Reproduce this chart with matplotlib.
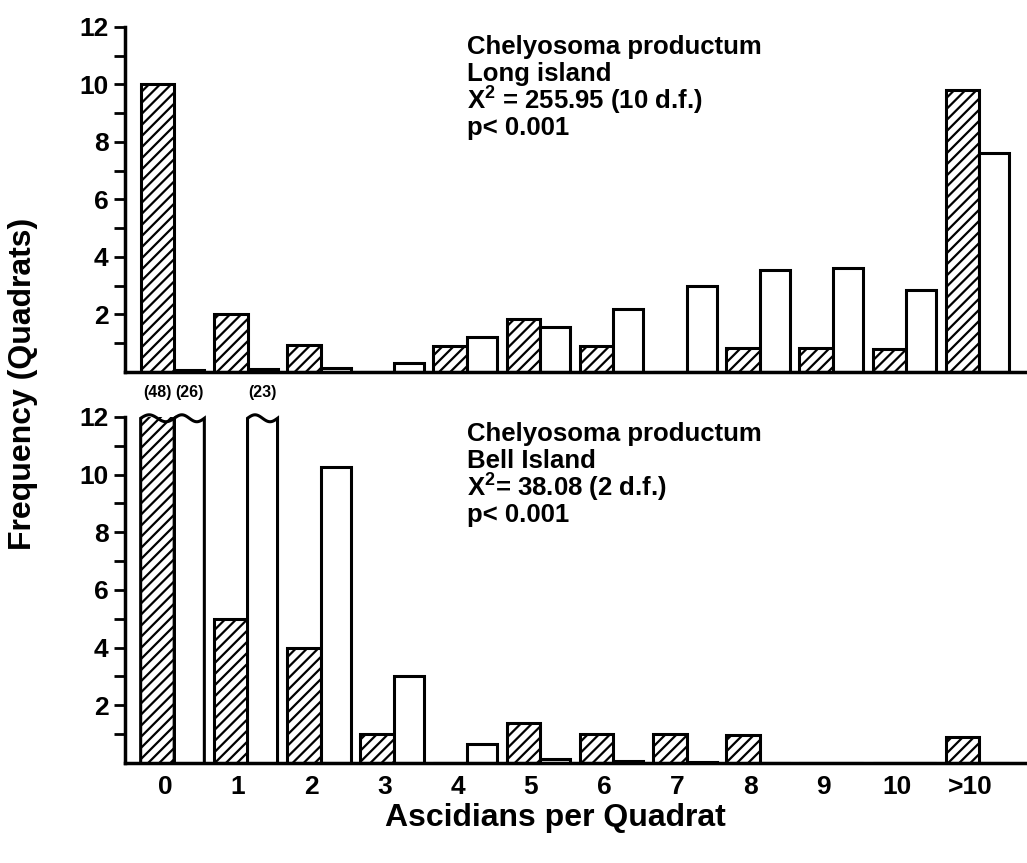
import numpy as np
import matplotlib
matplotlib.use('Agg')
import matplotlib.pyplot as plt

plt.rcParams['font.family'] = ['Liberation Sans', 'DejaVu Sans']
plt.rcParams['font.weight'] = 'bold'
plt.rcParams['mathtext.fontset'] = 'custom'
plt.rcParams['mathtext.rm'] = 'Liberation Sans:bold'
plt.rcParams['mathtext.default'] = 'rm'
plt.rcParams['hatch.linewidth'] = 1.6

categories = ['0', '1', '2', '3', '4', '5', '6', '7', '8', '9', '10', '>10']

# Long island: observed (hatched) and expected (open)
long_observed = [10, 2.0, 0.95, 0, 0.9, 1.85, 0.9, 0, 0.85, 0.85, 0.8, 9.8]
long_expected = [0.08, 0.1, 0.15, 0.3, 1.2, 1.55, 2.2, 3.0, 3.55, 3.6, 2.85, 7.6]

# Bell island: observed (hatched) and expected (open); bars above 12 are broken
bell_observed = [48, 5, 4, 1, 0, 1.4, 1.0, 1.0, 0.95, 0, 0, 0.9]
bell_expected = [26, 23, 10.25, 3.0, 0.65, 0.12, 0.05, 0.03, 0, 0, 0, 0]

long_text = ['Chelyosoma productum', 'Long island',
             'X$^{2}$ = 255.95 (10 d.f.)', 'p< 0.001']
bell_text = ['Chelyosoma productum', 'Bell Island',
             'X$^{2}$= 38.08 (2 d.f.)', 'p< 0.001']

YMAX = 12
HATCH_W = 0.46
OPEN_W = 0.41


def draw_bars(ax, pos, vals, width, hatch):
    shown = np.minimum(vals, YMAX)
    bars = ax.bar(pos, shown, width, align='edge', facecolor='white',
                  edgecolor='black', linewidth=2.2, hatch=hatch, zorder=2)
    for bar, v in zip(bars, vals):
        if v <= YMAX:
            continue
        # broken bar: wavy top and the real count written above
        bar.set_linewidth(0)
        x0, w = bar.get_x(), bar.get_width()
        xs = np.linspace(x0, x0 + w, 40)
        ys = YMAX - 0.05 + 0.12 * np.sin(2 * np.pi * (xs - x0) / w)
        ax.plot([x0, *xs, x0 + w], [0, *ys, 0], color='black', lw=2.2,
                clip_on=False, zorder=3, solid_joinstyle='miter')
        ax.text(x0 + w / 2, YMAX + 0.85, f'({v:g})', ha='center', va='center',
                fontsize=11.5, fontweight='bold', clip_on=False)


def style_axis(ax):
    x = np.arange(len(categories))
    ax.set_xlim(-0.67, 11.65)
    ax.set_ylim(0, YMAX)
    ax.set_yticks(range(2, 13, 2))
    ax.set_yticks(range(1, 12, 2), minor=True)
    ax.tick_params(axis='y', which='both', direction='out', length=8,
                   width=2, labelsize=19, pad=4)
    ax.set_xticks(x - 0.13)
    ax.tick_params(axis='x', length=0, labelsize=19, pad=9)
    for s in ['top', 'right']:
        ax.spines[s].set_visible(False)
    for s in ['left', 'bottom']:
        ax.spines[s].set_linewidth(2.5)
    for lab in ax.get_yticklabels():
        lab.set_fontweight('bold')


def panel(ax, observed, expected, lines, show_x, top):
    x = np.arange(len(categories))
    draw_bars(ax, x - HATCH_W, np.array(observed, float), HATCH_W, '///')
    draw_bars(ax, x, np.array(expected, float), OPEN_W, None)
    style_axis(ax)
    if show_x:
        ax.set_xticklabels(categories, fontweight='bold')
    else:
        ax.set_xticklabels([])
    for i, t in enumerate(lines):
        ax.text(0.379, top - i * 0.078, t, transform=ax.transAxes,
                fontsize=18.5, fontweight='bold', va='center', ha='left')


fig = plt.figure(figsize=(10.27, 8.63), dpi=100)
ax1 = fig.add_axes([0.122, 0.569, 0.878, 0.400])
ax2 = fig.add_axes([0.122, 0.116, 0.878, 0.401])

panel(ax1, long_observed, long_expected, long_text, False, 0.94)
panel(ax2, bell_observed, bell_expected, bell_text, True, 0.95)

fig.text(0.022, 0.555, 'Frequency (Quadrats)', rotation=90, ha='center',
         va='center', fontsize=23, fontweight='bold')
fig.text(0.541, 0.052, 'Ascidians per Quadrat', ha='center', va='center',
         fontsize=23, fontweight='bold')

fig.savefig('out.png', dpi=100)
